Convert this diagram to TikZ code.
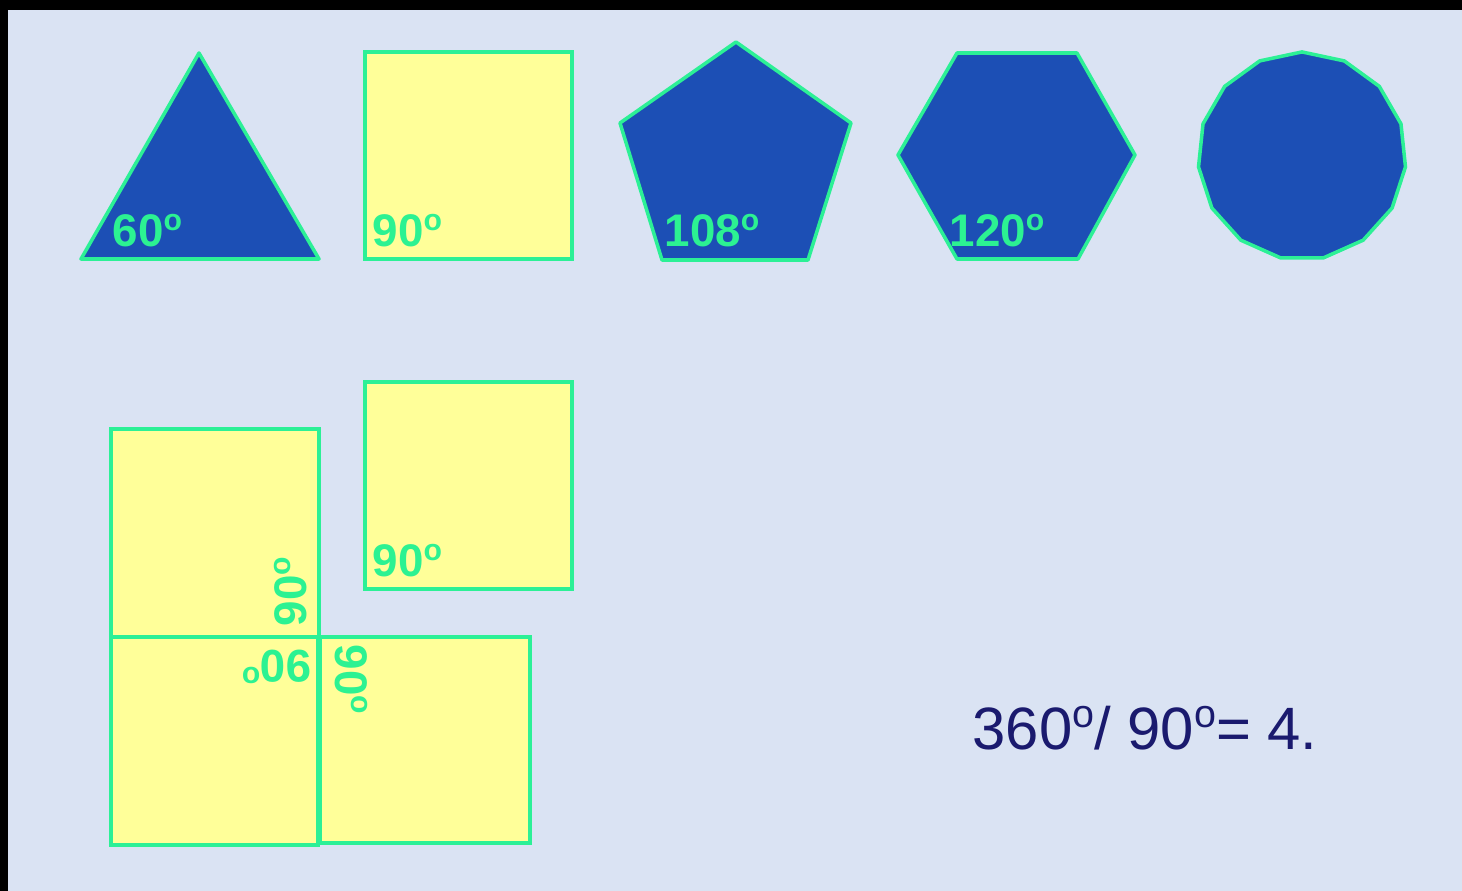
\documentclass[tikz,border=0pt]{standalone}
\usepackage{fontspec}
\setmainfont{Liberation Sans}
\usepackage{xcolor}
\usetikzlibrary{shapes,positioning,calc}

\definecolor{bgblue}{RGB}{218,227,243}
\definecolor{shapeblue}{RGB}{28,79,181}
\definecolor{paleyellow}{RGB}{255,255,153}
\definecolor{edgegreen}{RGB}{44,240,150}
\definecolor{labelgreen}{RGB}{44,242,146}
\definecolor{navy}{RGB}{26,26,110}

% raised o, as the slide prints its degree marks
\newcommand{\degsign}{\raisebox{0.37em}{\scalebox{0.66}{o}}}

\tikzset{
    bluepoly/.style={fill=shapeblue, draw=edgegreen, line width=1pt, line join=round},
    yellowsq/.style={fill=paleyellow, draw=edgegreen, line width=1pt},
    angle/.style={text=labelgreen, font=\fontsize{13}{13}\selectfont\bfseries, inner sep=0pt, anchor=base west}
}

\begin{document}
\begin{tikzpicture}[x=0.01cm, y=-0.01cm]
    % Frame
    \fill[black] (0,0) rectangle (1462,891);
    \fill[bgblue] (8,10) rectangle (1462,891);
    \useasboundingbox (0,0) rectangle (1462,891);

    % Top row
    \draw[bluepoly] (199,53) -- (319,259) -- (81,259) -- cycle;
    \draw[yellowsq] (365,52) rectangle (572,259);
    \draw[bluepoly] (736,42) -- (851,123) -- (808,260) -- (662,260) -- (620,123) -- cycle;
    \draw[bluepoly] (957,53) -- (1077,53) -- (1135,155) -- (1078,259) -- (957,259) -- (898,155) -- cycle;
    \node[regular polygon, regular polygon sides=15, minimum size=2.08cm, inner sep=0pt,
          fill=shapeblue, draw=edgegreen, line width=1pt] (round) at (1302,156) {};

    \node[angle] (tri) at (112,247) {60\degsign};
    \node[angle] (sq) at (372,247) {90\degsign};
    \node[angle] (pent) at (664,247) {108\degsign};
    \node[angle] (hex) at (949,247) {120\degsign};

    % Four squares round one point
    \draw[yellowsq] (365,382) rectangle (572,589);
    \draw[yellowsq] (111,429) rectangle (319,637);
    \draw[yellowsq] (111,637) rectangle (318,845);
    \draw[yellowsq] (320,637) rectangle (530,843);

    \node[angle] (sqb) at (372,577) {90\degsign};
    \node[angle, rotate=90] (sqa) at (307,627) {90\degsign};
    \node[angle, rotate=180] (sqc) at (312,651) {90\degsign};
    \node[angle, rotate=-90] (sqd) at (335,644) {90\degsign};

    % Result
    \node[text=navy, font=\fontsize{17}{17}\selectfont, inner sep=0pt, anchor=base west]
        (result) at (972,750) {360\degsign/ 90\degsign= 4.};
\end{tikzpicture}
\end{document}
